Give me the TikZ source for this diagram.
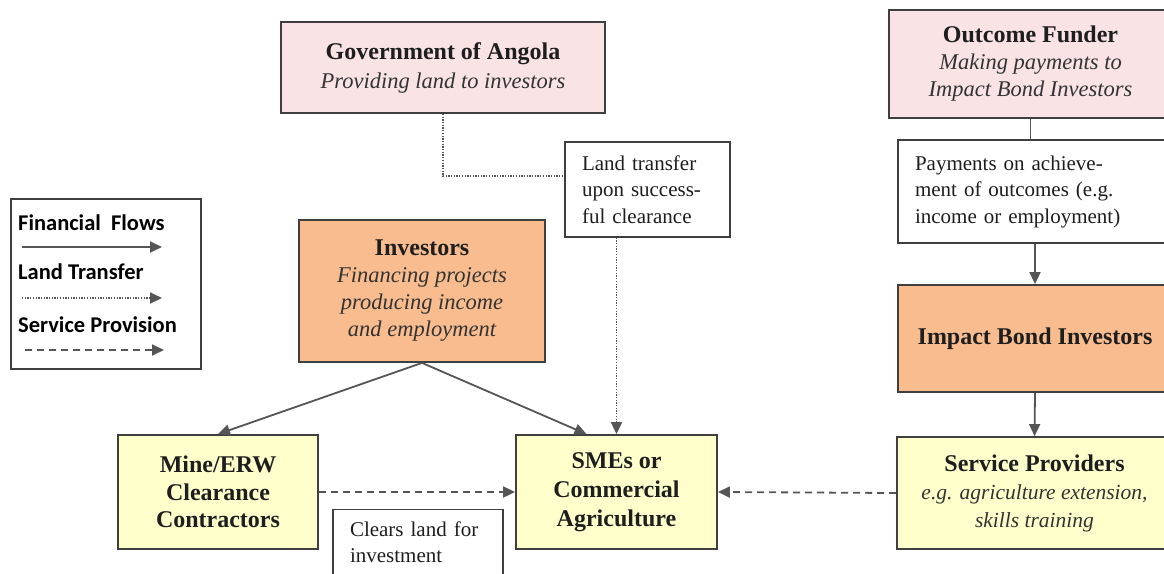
\documentclass[tikz,border=0pt]{standalone}
\usepackage{fontspec}
\setmainfont{Liberation Serif}
\newfontfamily\legfont{Carlito}
\usetikzlibrary{arrows.meta,calc}
\definecolor{pinkfill}{HTML}{F9E3E5}
\definecolor{orangefill}{HTML}{F8BC8E}
\definecolor{yellowfill}{HTML}{FFFFCC}
\definecolor{edgegray}{HTML}{3F3F3F}
\definecolor{linegray}{HTML}{555555}
\definecolor{txt}{HTML}{1E1E1E}
\newcommand{\subit}{\fontsize{22.5}{28}\selectfont\itshape\color{black!80}}
\begin{document}
\begin{tikzpicture}[x=1pt,y=-1pt,
  box/.style={draw=edgegray,line width=1.8pt,rectangle,inner sep=0pt,align=center,text=txt},
  pinkbox/.style={box,fill=pinkfill},
  orangebox/.style={box,fill=orangefill},
  yellowbox/.style={box,fill=yellowfill},
  notebox/.style={draw=edgegray,line width=1.3pt,fill=white,rectangle,align=left,text=txt,
    font=\fontsize{21}{26.5}\selectfont},
  flow/.style={draw=linegray,line width=1.8pt,-{Triangle[length=12pt,width=11pt]}},
  flowplain/.style={draw=linegray,line width=1.8pt},
  landline/.style={draw=linegray,line width=1.8pt,dash pattern=on 1.3pt off 1.4pt},
  land/.style={landline,-{Triangle[length=12pt,width=11pt]}},
  service/.style={draw=linegray,line width=1.8pt,dash pattern=on 7pt off 5pt,-{Triangle[length=12pt,width=11pt]}},
  legtxt/.style={font=\legfont\bfseries\fontsize{22.5}{26}\selectfont,text=black,anchor=west,inner sep=0pt}
]
\useasboundingbox (0,0) rectangle (1164,573);

% top boxes
\node[pinkbox,minimum width=324,minimum height=91,font=\fontsize{24}{29}\selectfont] (gov) at (443,67.5)
  {\textbf{Government of Angola}\\{\subit Providing land to investors}};
\node[pinkbox,minimum width=283,minimum height=108,font=\fontsize{24}{27}\selectfont] (funder) at (1030.5,64)
  {\textbf{Outcome Funder}\\{\subit Making payments to}\\{\subit Impact Bond Investors}};

% note boxes
\node[notebox,minimum width=274,minimum height=103,text width=240,inner xsep=17pt] (pay) at (1035,191.5)
  {Payments on achieve-\\ment of outcomes (e.g.\\income or employment)};
\node[notebox,minimum width=165,minimum height=95,text width=131,inner xsep=17pt] (landnote) at (647.5,189.5)
  {Land transfer\\upon success-\\ful clearance};

% legend
\node[draw=edgegray,line width=1.3pt,fill=white,minimum width=190,minimum height=170] (legend) at (106,284) {};
\node[legtxt] (l1) at (18,223) {Financial\ \ Flows};
\node[legtxt] (l2) at (18,272) {Land Transfer};
\node[legtxt] (l3) at (18,325) {Service Provision};
\coordinate (a1s) at (22,247); \coordinate (a1e) at (162,247);
\coordinate (a2s) at (22,298); \coordinate (a2e) at (162,298);
\coordinate (a3s) at (25,350); \coordinate (a3e) at (164,350);
\draw[flow] (a1s) -- (a1e);
\draw[land] (a2s) -- (a2e);
\draw[service] (a3s) -- (a3e);

% middle boxes
\node[orangebox,minimum width=246,minimum height=142,font=\fontsize{24}{27}\selectfont] (inv) at (422,291)
  {\textbf{Investors}\\{\subit Financing projects}\\{\subit producing income}\\{\subit and employment}};
\node[orangebox,minimum width=274,minimum height=107,font=\fontsize{24}{28}\selectfont] (ibi) at (1035,338.5)
  {\textbf{Impact Bond Investors}};

% bottom boxes
\node[yellowbox,minimum width=200,minimum height=114,font=\fontsize{24}{27.5}\selectfont\bfseries] (mine) at (218,492)
  {Mine/ERW\\Clearance\\Contractors};
\node[yellowbox,minimum width=201,minimum height=114,font=\fontsize{24}{29}\selectfont\bfseries] (sme) at (616.5,492)
  {SMEs or\\Commercial\\Agriculture};
\node[yellowbox,minimum width=275,minimum height=112,font=\fontsize{24}{28}\selectfont] (sp) at (1034.5,493)
  {\textbf{Service Providers}\\{\fontsize{21.5}{28}\selectfont\itshape\color{black!80}e.g. agriculture extension,}\\{\fontsize{21.5}{28}\selectfont\itshape\color{black!80}skills training}};
\node[notebox,anchor=north,text width=136,inner xsep=17pt,inner ysep=12pt] (clears) at (418,509)
  {Clears land for\\investment};

% connectors
\draw[landline] (gov.south) |- ($(landnote.north west)!0.36!(landnote.south west)$);
\draw[land] (landnote.south -| sme.north) -- (sme.north);
\draw[flow] (inv.south) -- (mine.north);
\draw[flow] (inv.south) -- ($(sme.north)+(-30,0)$);
\draw[flowplain] (funder.south) -- (funder.south |- pay.north);
\draw[flow] (pay.south) -- (ibi.north);
\draw[flow] (ibi.south) -- (sp.north);
\draw[service] (mine.east) -- (sme.west);
\draw[service] (sp.west) -- (sme.east);
\end{tikzpicture}
\end{document}
